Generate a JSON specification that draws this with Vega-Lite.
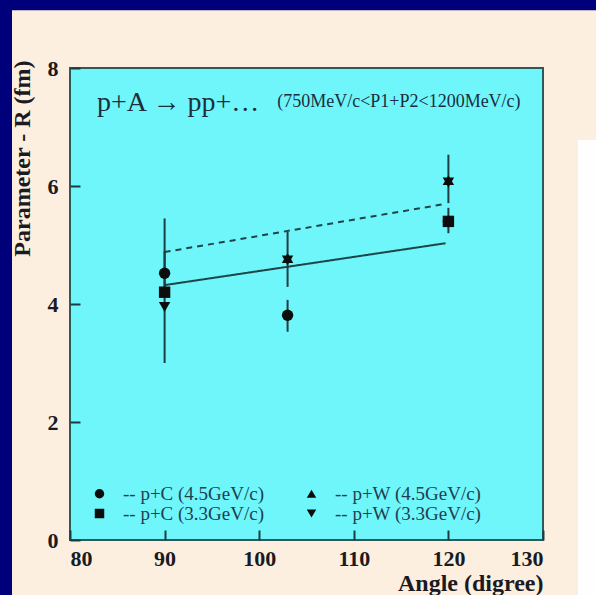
{
  "$schema": "https://vega.github.io/schema/vega-lite/v6.json",
  "width": 473,
  "height": 472,
  "autosize": "none",
  "padding": {"left": 70, "top": 68, "right": 53, "bottom": 55},
  "background": "#00007a",
  "config": {"view": {"stroke": null}, "font": "Liberation Serif"},
  "datasets": {
    "one": [{}],
    "points": [
      {"angle": 90, "R": 4.52, "sample": "p+C (4.5GeV/c)"},
      {"angle": 90, "R": 4.2, "sample": "p+C (3.3GeV/c)"},
      {"angle": 90, "R": 3.95, "sample": "p+W (3.3GeV/c)"},
      {"angle": 103, "R": 3.81, "sample": "p+C (4.5GeV/c)"},
      {"angle": 103, "R": 4.78, "sample": "p+W (4.5GeV/c)"},
      {"angle": 103, "R": 4.74, "sample": "p+W (3.3GeV/c)"},
      {"angle": 120, "R": 5.4, "sample": "p+C (4.5GeV/c)"},
      {"angle": 120, "R": 5.4, "sample": "p+C (3.3GeV/c)"},
      {"angle": 120, "R": 6.1, "sample": "p+W (4.5GeV/c)"},
      {"angle": 120, "R": 6.06, "sample": "p+W (3.3GeV/c)"}
    ],
    "errors": [
      {"angle": 90, "lo": 3.0, "hi": 4.9, "sample": "p+W (3.3GeV/c)"},
      {"angle": 90, "lo": 4.1, "hi": 5.45, "sample": "p+C (4.5GeV/c)"},
      {"angle": 103, "lo": 4.29, "hi": 5.22, "sample": "p+W (4.5GeV/c)"},
      {"angle": 103, "lo": 3.53, "hi": 4.07, "sample": "p+C (4.5GeV/c)"},
      {"angle": 120, "lo": 5.71, "hi": 6.53, "sample": "p+W (4.5GeV/c)"},
      {"angle": 120, "lo": 5.2, "hi": 5.63, "sample": "p+C (4.5GeV/c)"}
    ],
    "fits": [
      {"angle": 90, "R": 4.32, "fit": "C"},
      {"angle": 119.7, "R": 5.03, "fit": "C"},
      {"angle": 90, "R": 4.88, "fit": "W"},
      {"angle": 119.8, "R": 5.7, "fit": "W"}
    ]
  },
  "layer": [
    {
      "data": {"name": "one"},
      "mark": {"type": "rect", "color": "#fcefdf", "clip": false},
      "encoding": {
        "x": {"datum": 73.87, "type": "quantitative", "scale": {"domain": [80, 130], "nice": false, "zero": false}},
        "x2": {"datum": 140},
        "y": {"datum": 8.98, "type": "quantitative", "scale": {"domain": [0, 8], "nice": false}},
        "y2": {"datum": -2}
      }
    },
    {
      "data": {"name": "one"},
      "mark": {"type": "rect", "color": "#fefefe", "clip": false},
      "encoding": {
        "x": {"datum": 133.7, "type": "quantitative"},
        "x2": {"datum": 140},
        "y": {"datum": 6.78, "type": "quantitative"},
        "y2": {"datum": -2}
      }
    },
    {
      "data": {"name": "one"},
      "mark": {"type": "rect", "fill": "#6ff6fb", "stroke": "#2e5a5c", "strokeWidth": 2},
      "encoding": {
        "x": {
          "datum": 80, "type": "quantitative",
          "axis": {
            "title": "Angle (digree)", "values": [80, 90, 100, 110, 120, 130], "format": "d",
            "zindex": 2, "domain": false, "grid": false, "offset": -10, "ticks": true,
            "tickSize": 10, "tickColor": "#1a3c40", "tickWidth": 2, "tickOpacity": 1,
            "labelFont": "Liberation Serif", "labelFontWeight": "bold", "labelFontSize": 22, "labelColor": "#1a1a22", "labelPadding": 8,
            "titleFont": "Liberation Serif", "titleFontWeight": "bold", "titleFontSize": 24, "titleColor": "#1a1a22",
            "titleAnchor": "end", "titleAlign": "right", "titleBaseline": "middle", "titleX": 473, "titleY": 53
          }
        },
        "x2": {"datum": 130},
        "y": {
          "datum": 0, "type": "quantitative",
          "axis": {
            "title": "Parameter - R (fm)", "values": [0, 2, 4, 6, 8], "format": "d",
            "zindex": 2, "domain": false, "grid": false, "offset": -10, "ticks": true,
            "tickSize": 10, "tickColor": "#1a3c40", "tickWidth": 2, "tickOpacity": 1,
            "labelFont": "Liberation Serif", "labelFontWeight": "bold", "labelFontSize": 22, "labelColor": "#1a1a22", "labelPadding": 12,
            "titleFont": "Liberation Serif", "titleFontWeight": "bold", "titleFontSize": 24, "titleColor": "#1a1a22",
            "titleAngle": 270, "titleAlign": "right", "titleBaseline": "middle", "titleX": -58, "titleY": -8
          }
        },
        "y2": {"datum": 8}
      }
    },
    {
      "data": {"name": "fits"},
      "mark": {"type": "line", "color": "#1d4548", "strokeWidth": 2},
      "encoding": {
        "x": {"field": "angle", "type": "quantitative"},
        "y": {"field": "R", "type": "quantitative"},
        "detail": {"field": "fit"},
        "strokeDash": {"field": "fit", "type": "nominal", "scale": {"domain": ["C", "W"], "range": [[1, 0], [6, 5]]}, "legend": null}
      }
    },
    {
      "data": {"name": "errors"},
      "mark": {"type": "rule", "color": "#1d3d40", "strokeWidth": 2},
      "encoding": {
        "x": {"field": "angle", "type": "quantitative"},
        "y": {"field": "lo", "type": "quantitative"},
        "y2": {"field": "hi"}
      }
    },
    {
      "data": {"name": "points"},
      "mark": {"type": "point", "filled": true, "color": "#0d0d0d", "size": 130, "opacity": 1},
      "encoding": {
        "x": {"field": "angle", "type": "quantitative"},
        "y": {"field": "R", "type": "quantitative"},
        "shape": {
          "field": "sample", "type": "nominal",
          "scale": {"domain": ["p+C (4.5GeV/c)", "p+W (4.5GeV/c)", "p+C (3.3GeV/c)", "p+W (3.3GeV/c)"], "range": ["circle", "triangle-up", "square", "triangle-down"]},
          "legend": {
            "title": null, "orient": "none", "legendX": 20, "legendY": 416, "columns": 2, "direction": "horizontal",
            "labelFont": "Liberation Serif", "labelFontSize": 19, "labelColor": "#1f3f50", "labelExpr": "'-- ' + datum.label",
            "symbolSize": 90, "symbolFillColor": "#000000", "symbolStrokeColor": "#000000", "symbolStrokeWidth": 0,
            "columnPadding": 37, "rowPadding": -6, "labelOffset": 14
          }
        }
      }
    },
    {
      "data": {"name": "one"},
      "mark": {"type": "text", "align": "left", "baseline": "middle", "fontSize": 28, "font": "Liberation Serif", "color": "#1c2e3e"},
      "encoding": {
        "x": {"datum": 82.85, "type": "quantitative"},
        "y": {"datum": 7.41, "type": "quantitative"},
        "text": {"value": "p+A → pp+…"}
      }
    },
    {
      "data": {"name": "one"},
      "mark": {"type": "text", "align": "left", "baseline": "middle", "fontSize": 18, "font": "Liberation Serif", "color": "#1c2e3e"},
      "encoding": {
        "x": {"datum": 101.9, "type": "quantitative"},
        "y": {"datum": 7.43, "type": "quantitative"},
        "text": {"value": "(750MeV/c<P1+P2<1200MeV/c)"}
      }
    }
  ]
}
